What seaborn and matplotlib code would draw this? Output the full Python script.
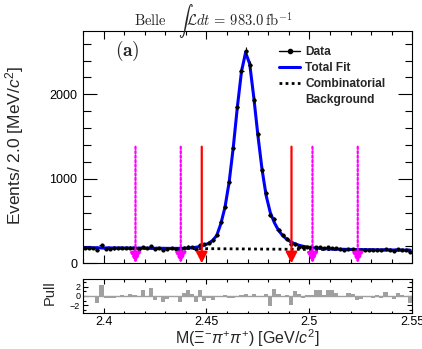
import numpy as np
import matplotlib
matplotlib.use("Agg")
import matplotlib.pyplot as plt
import seaborn as sns
from matplotlib.ticker import MultipleLocator, FixedLocator
from matplotlib.lines import Line2D

# ---------------- data ----------------
bin_lo = 2.39
bin_width = 0.002
n_bins = 80

data_counts = [185, 182, 184, 161, 215, 175, 175, 176, 177, 185,
               178, 186, 184, 175, 195, 177, 202, 167, 179, 158,
               169, 178, 172, 159, 186, 197, 189, 171, 217, 228,
               240, 272, 340, 485, 672, 957, 1368, 1853, 2281, 2514,
               2346, 1938, 1530, 1110, 835, 570, 522, 398, 330, 290,
               225, 225, 196, 194, 195, 189, 196, 192, 177, 187,
               185, 177, 168, 161, 172, 170, 153, 154, 158, 158,
               155, 162, 153, 170, 154, 150, 164, 159, 152, 137]

fit_total = [183.8, 183.5, 183.1, 182.7, 182.4, 182.0, 181.6, 181.3, 180.9, 180.6,
             180.2, 179.8, 179.5, 179.1, 178.7, 178.4, 178.0, 177.7, 177.3, 176.9,
             176.6, 176.3, 176.3, 176.7, 177.6, 180.0, 184.0, 190.0, 199.0, 214.0,
             236, 270, 330, 470, 665, 960, 1370, 1850, 2270, 2495,
             2360, 1960, 1510, 1110, 800, 600, 480, 390, 328, 285,
             253, 230, 213, 201, 192, 185, 180, 176, 173, 171,
             169, 167.5, 166.3, 165.3, 164.5, 163.6, 162.8, 162.0, 161.3, 160.6,
             160.0, 159.4, 158.8, 158.2, 157.6, 157.0, 156.5, 156.0, 155.5, 155.2]

bkg_x = [2.39, 2.55]
bkg_y = [184.0, 155.0]

pulls = [0.1, -0.1, 0.1, -1.6, 2.4, -0.5, -0.5, -0.4, -0.3, 0.3,
         -0.2, 0.5, 0.3, -0.3, 1.2, -0.1, 1.8, -0.8, 0.1, -1.4,
         -0.6, 0.1, -0.3, -1.3, 0.6, 1.3, 0.4, -1.4, 1.3, -1.2,
         -0.5, -0.8, -0.3, -0.3, 0.2, -0.4, -0.4, -0.2, 0.3, 0.4,
         -0.3, 0.4, -0.2, -0.3, 0.4, -2.2, 1.5, 0.5, -0.3, 0.3,
         -2.0, 1.1, 0.4, -0.5, 0.2, 0.3, 1.2, 1.2, 0.3, 1.2,
         1.2, 0.7, 0.1, -0.3, 0.6, 0.5, -0.8, -0.6, -0.3, -0.2,
         -0.4, 0.2, -0.5, 0.9, -0.3, -0.6, 0.6, 0.2, -0.3, -1.5]

sideband_edges = [2.4155, 2.4375, 2.5015, 2.5235]
signal_edges = [2.4477, 2.4913]
arrow_top = 1380

xtick_vals = [2.40, 2.45, 2.50, 2.55]
xtick_labels = ["2.4", "2.45", "2.5", "2.55"]
ytick_vals = [0, 1000, 2000]
ytick_labels = ["0", "1000", "2000"]
pull_tick_vals = [-2, 0, 2]
pull_tick_labels = ["\u22122", "0", "2"]

legend_labels = ["Data", "Total Fit", "Combinatorial", "Background"]

# ---------------- style ----------------
sns.set_theme(style="ticks")
plt.rcParams["font.family"] = ["Liberation Sans", "DejaVu Sans"]
plt.rcParams["mathtext.fontset"] = "custom"
plt.rcParams["mathtext.rm"] = "Liberation Sans"
plt.rcParams["mathtext.it"] = "Liberation Sans:italic"
plt.rcParams["mathtext.bf"] = "Liberation Sans:bold"
plt.rcParams["axes.linewidth"] = 0.8

centers = bin_lo + bin_width * (np.arange(n_bins) + 0.5)
counts = np.array(data_counts, dtype=float)

fig = plt.figure(figsize=(4.22, 3.49), dpi=100)
ax = fig.add_axes([0.1967, 0.2456, 0.7803, 0.6656])
axp = fig.add_axes([0.1967, 0.1032, 0.7803, 0.0974])

# background and total fit
sns.lineplot(x=bkg_x, y=bkg_y, ax=ax, color="black", lw=2.0,
             linestyle=(0, (1, 1.2)), estimator=None, sort=False)
sns.lineplot(x=centers, y=fit_total, ax=ax, color="#0000ff", lw=2.2,
             estimator=None, sort=False)

# data with error bars
ax.errorbar(centers, counts, yerr=np.sqrt(counts), xerr=bin_width / 2,
            fmt="none", ecolor="black", elinewidth=0.8, capsize=0, zorder=4)
sns.scatterplot(x=centers, y=counts, ax=ax, color="black", s=9,
                linewidth=0, zorder=5)

# sideband (magenta) and signal (red) arrows
for xs in sideband_edges:
    ax.annotate("", xy=(xs, 0), xytext=(xs, arrow_top),
                arrowprops=dict(arrowstyle="-|>,head_width=0.28,head_length=0.55",
                                color="#ff00ff", lw=1.6, linestyle=(0, (1, 1)),
                                shrinkA=0, shrinkB=0), zorder=6)
for xs in signal_edges:
    ax.annotate("", xy=(xs, 0), xytext=(xs, arrow_top),
                arrowprops=dict(arrowstyle="-|>,head_width=0.28,head_length=0.55",
                                color="#ff0000", lw=1.6,
                                shrinkA=0, shrinkB=0), zorder=6)

ax.set_xlim(2.39, 2.55)
ax.set_ylim(0, 2750)
ax.xaxis.set_major_locator(FixedLocator(xtick_vals))
ax.xaxis.set_minor_locator(MultipleLocator(0.01))
ax.yaxis.set_major_locator(FixedLocator(ytick_vals))
ax.set_yticklabels(ytick_labels)
ax.yaxis.set_minor_locator(MultipleLocator(200))
ax.tick_params(axis="both", which="both", direction="in", top=True, right=True,
               width=0.8, colors="black")
ax.tick_params(axis="x", which="major", length=5.8, labelbottom=False)
ax.tick_params(axis="x", which="minor", length=2.9)
ax.tick_params(axis="y", which="major", length=10, labelsize=9, pad=4)
ax.tick_params(axis="y", which="minor", length=5.4)
ax.set_xlabel("")
ax.set_ylabel("Events/ 2.0 [MeV/$c^2$]", fontsize=12.5)
ax.yaxis.set_label_coords(-0.173, 0.51)
for s in ax.spines.values():
    s.set_color("black")

handles = [Line2D([], [], color="black", marker="o", ms=3, lw=1),
           Line2D([], [], color="#0000ff", lw=2.2),
           Line2D([], [], color="black", lw=2.0, linestyle=(0, (1, 1.2))),
           Line2D([], [], color="none")]
leg = ax.legend(handles, legend_labels, loc="upper left",
                bbox_to_anchor=(0.595, 0.935), frameon=False,
                prop={"weight": "bold", "size": 8.6}, handlelength=1.8,
                handletextpad=0.42, labelspacing=0.33, borderpad=0,
                borderaxespad=0)

ax.text(0.135, 0.915, r"$\mathbf{(a)}$", transform=ax.transAxes, fontsize=14,
        ha="center", va="center", math_fontfamily="cm")
fig.text(0.505, 0.925, r"$\mathrm{Belle}\quad\int\mathcal{L}dt\,=\,983.0\,\mathrm{fb}^{-1}$",
         fontsize=10.5, ha="center", va="baseline", math_fontfamily="cm")

# pull panel
axp.bar(centers, pulls, width=bin_width, color="#a0a0a0", linewidth=0)
axp.axhline(0, color="#a0a0a0", lw=1)
axp.set_xlim(2.39, 2.55)
axp.set_ylim(-3.7, 3.7)
axp.xaxis.set_major_locator(FixedLocator(xtick_vals))
axp.set_xticklabels(xtick_labels)
axp.xaxis.set_minor_locator(MultipleLocator(0.01))
axp.yaxis.set_major_locator(FixedLocator(pull_tick_vals))
axp.set_yticklabels(pull_tick_labels)
axp.yaxis.set_minor_locator(MultipleLocator(1))
axp.tick_params(axis="both", which="both", direction="in", top=True, right=True,
                width=0.8, colors="black")
axp.tick_params(axis="x", which="major", length=3.6, labelsize=9, pad=2.5)
axp.tick_params(axis="x", which="minor", length=1.8)
axp.tick_params(axis="y", which="major", length=3.6, labelsize=6.5, pad=2)
axp.tick_params(axis="y", which="minor", length=2)
axp.set_ylabel("Pull", fontsize=10.5)
axp.yaxis.set_label_coords(-0.08, 0.6)
axp.set_xlabel("M($\\Xi^{-}\\pi^{+}\\pi^{+}$) [GeV/$c^{2}$]", fontsize=11.5, labelpad=-1.0)
for s in axp.spines.values():
    s.set_color("black")

fig.savefig("out.png", dpi=100)
